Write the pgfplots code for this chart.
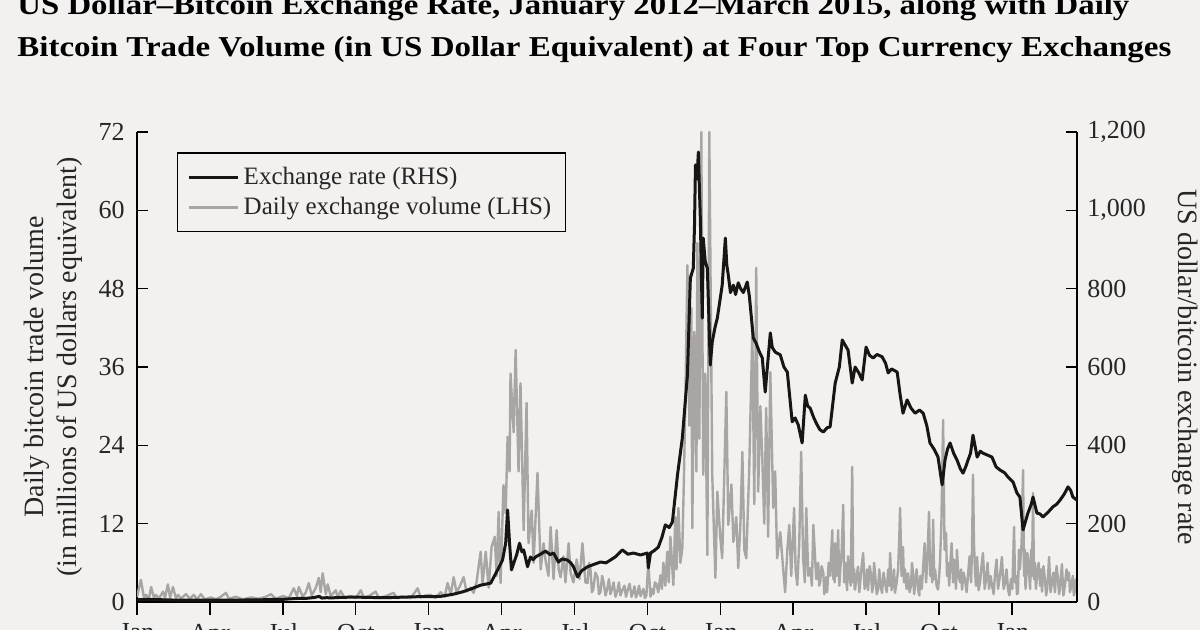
\documentclass[border=0pt]{standalone}
\usepackage{fontspec}
\setmainfont{Liberation Serif}
\usepackage{graphicx}
\usepackage{pgfplots}
\pgfplotsset{compat=1.18}
\definecolor{bg}{HTML}{F2F1EF}
\definecolor{volgray}{HTML}{A9A5A2}
\definecolor{ratecol}{HTML}{1A1515}

% x = months since 1 January 2012
\pgfplotstableread{
m v
0.00 0.8
0.16 3.4
0.29 0.6
0.37 1.1
0.49 0.5
0.58 2.3
0.70 0.6
0.78 1.1
0.90 0.5
1.07 1.6
1.15 0.6
1.27 2.7
1.36 0.7
1.48 2.3
1.60 0.6
1.69 1.1
1.81 0.5
2.01 1.2
2.18 0.5
2.34 1.1
2.47 0.4
2.63 1.2
2.79 0.4
3.04 0.7
3.25 0.4
3.45 0.8
3.66 1.4
3.78 0.5
4.07 0.8
4.36 0.4
4.69 0.7
5.01 0.5
5.30 0.8
5.51 1.2
5.71 0.5
6.00 0.9
6.25 0.6
6.45 2.1
6.58 0.9
6.66 2.3
6.82 0.8
6.95 1.5
7.07 2.9
7.19 1.0
7.36 2.2
7.48 3.7
7.56 1.5
7.64 4.4
7.77 1.2
7.85 2.7
7.97 0.9
8.18 1.8
8.26 0.7
8.38 1.7
8.55 0.6
8.80 0.9
9.00 0.6
9.21 1.8
9.33 0.7
9.54 0.9
9.82 1.6
9.95 0.6
10.23 0.9
10.56 1.4
10.69 0.6
10.93 0.8
11.26 0.6
11.55 2.1
11.67 0.7
11.88 1.0
12.08 1.1
12.29 0.6
12.49 1.5
12.66 0.8
12.78 2.9
12.91 1.2
13.03 3.8
13.15 1.5
13.28 2.4
13.44 3.8
13.56 1.6
13.73 2.2
13.85 1.4
13.97 3.0
14.14 7.7
14.22 2.8
14.35 7.7
14.47 2.2
14.59 8.4
14.72 10.0
14.80 4.0
14.88 13.8
14.96 2.9
15.08 17.9
15.17 13.6
15.25 25.3
15.33 20.0
15.37 35.0
15.50 26.0
15.58 38.6
15.70 20.0
15.78 33.5
15.91 11.0
16.03 30.5
16.11 9.0
16.24 14.0
16.32 6.0
16.48 19.8
16.61 5.0
16.73 9.0
16.81 6.4
16.93 4.0
17.02 11.5
17.14 3.5
17.27 11.0
17.35 5.0
17.43 3.8
17.55 7.0
17.63 3.0
17.76 9.0
17.84 4.5
17.96 3.0
18.09 6.5
18.21 3.5
18.33 9.0
18.45 3.0
18.54 2.9
18.60 6.0
18.66 5.0
18.72 1.5
18.78 2.0
18.86 4.5
18.95 3.8
19.01 1.2
19.07 1.5
19.14 4.0
19.20 3.0
19.28 1.0
19.36 2.2
19.42 3.5
19.48 1.2
19.55 2.0
19.61 3.0
19.69 0.8
19.77 1.8
19.83 3.0
19.89 1.0
19.97 1.8
20.06 2.5
20.12 0.8
20.18 1.7
20.27 2.8
20.35 0.8
20.41 1.5
20.47 2.4
20.53 0.7
20.59 1.3
20.66 2.5
20.72 0.9
20.78 1.5
20.84 2.0
20.90 0.6
20.96 1.0
21.04 6.0
21.13 0.8
21.19 2.0
21.25 1.2
21.31 3.0
21.37 2.8
21.45 1.5
21.54 4.1
21.60 2.0
21.66 6.0
21.74 2.5
21.82 7.7
21.88 3.0
21.95 10.0
22.07 2.6
22.15 13.0
22.20 5.0
22.28 14.4
22.36 6.0
22.44 8.3
22.50 18.0
22.56 30.0
22.65 51.6
22.73 27.0
22.81 45.0
22.85 11.3
22.93 41.4
23.02 20.0
23.06 55.0
23.14 25.0
23.22 72.0
23.30 19.5
23.38 35.0
23.47 7.2
23.55 72.0
23.67 19.5
23.80 3.7
23.88 16.9
24.00 10.0
24.08 6.7
24.17 20.0
24.25 32.2
24.33 11.8
24.46 18.0
24.54 9.2
24.66 13.0
24.74 5.2
24.83 12.0
24.91 23.0
24.99 8.0
25.07 6.7
25.19 20.0
25.32 41.4
25.40 15.0
25.48 51.2
25.56 16.9
25.65 30.0
25.73 22.0
25.81 12.0
25.89 29.7
25.97 10.0
26.06 35.2
26.18 14.4
26.26 20.0
26.34 6.7
26.47 10.7
26.59 5.0
26.67 1.5
26.76 8.0
26.84 11.8
26.92 4.0
27.04 14.4
27.10 5.0
27.17 2.6
27.25 9.0
27.33 23.0
27.41 6.7
27.48 3.0
27.54 14.4
27.62 4.0
27.70 5.2
27.77 2.5
27.83 11.8
27.95 3.5
28.03 6.0
28.07 2.5
28.11 3.0
28.17 5.5
28.24 4.5
28.28 1.2
28.32 2.0
28.36 3.8
28.40 1.5
28.46 6.0
28.52 4.0
28.57 8.0
28.61 11.0
28.65 3.5
28.69 6.0
28.71 3.0
28.73 9.0
28.79 4.0
28.85 11.0
28.90 2.5
28.94 5.0
29.00 8.0
29.06 14.9
29.10 3.0
29.14 6.0
29.18 3.5
29.22 1.8
29.26 7.0
29.30 5.0
29.37 2.5
29.43 20.7
29.47 3.0
29.51 5.0
29.53 2.0
29.55 1.9
29.61 4.0
29.67 5.4
29.72 1.5
29.76 3.0
29.82 5.5
29.88 7.5
29.94 2.0
30.00 3.0
30.04 5.0
30.08 1.8
30.15 5.5
30.21 4.0
30.25 1.5
30.29 2.5
30.33 6.0
30.37 4.4
30.44 1.2
30.50 2.0
30.54 5.0
30.58 3.5
30.62 2.0
30.66 1.4
30.72 4.5
30.78 3.0
30.85 1.5
30.91 5.0
30.95 2.5
30.99 7.5
31.05 1.8
31.11 3.0
31.15 5.0
31.19 1.4
31.26 3.0
31.32 5.0
31.36 9.0
31.40 14.4
31.46 4.0
31.52 8.4
31.56 3.0
31.60 5.0
31.67 2.0
31.73 4.4
31.79 1.5
31.85 2.5
31.89 6.0
31.93 4.5
31.98 1.2
32.02 2.9
32.08 5.0
32.14 2.0
32.19 1.0
32.23 4.0
32.29 2.0
32.35 5.4
32.41 9.0
32.47 3.0
32.53 7.0
32.59 13.8
32.64 4.0
32.68 6.0
32.72 3.0
32.76 12.6
32.80 3.5
32.84 5.0
32.90 2.5
32.96 1.9
33.00 3.5
33.04 6.0
33.10 12.0
33.17 27.9
33.23 8.0
33.29 10.6
33.33 4.0
33.37 6.0
33.42 2.5
33.46 5.4
33.52 9.0
33.58 3.0
33.62 6.5
33.66 4.5
33.70 2.0
33.74 8.0
33.80 4.0
33.87 3.0
33.91 5.0
33.95 1.9
34.01 4.5
34.07 3.5
34.14 1.5
34.20 4.4
34.26 7.0
34.32 3.0
34.36 8.0
34.40 19.5
34.44 9.0
34.48 5.0
34.52 2.5
34.57 6.9
34.63 1.8
34.69 3.0
34.75 5.5
34.81 7.5
34.88 2.0
34.94 3.5
35.00 6.0
35.06 2.0
35.12 4.0
35.18 2.6
35.25 1.2
35.31 4.5
35.37 6.5
35.43 2.0
35.51 4.0
35.59 6.9
35.66 2.0
35.72 3.0
35.78 5.0
35.84 1.9
35.90 1.0
35.96 3.5
36.02 2.0
36.09 11.5
36.13 3.0
36.17 4.0
36.21 1.2
36.25 1.4
36.29 8.0
36.33 5.0
36.40 9.0
36.46 20.2
36.50 4.0
36.54 8.0
36.56 2.0
36.58 3.0
36.64 7.5
36.70 5.0
36.75 2.0
36.79 8.0
36.83 4.0
36.87 16.7
36.91 3.5
36.95 6.0
36.99 2.0
37.03 4.0
37.10 6.0
37.16 2.5
37.20 5.0
37.24 1.6
37.30 5.5
37.36 3.5
37.41 1.0
37.45 2.0
37.49 4.0
37.53 6.9
37.59 1.5
37.65 3.0
37.71 4.5
37.77 1.5
37.84 5.5
37.90 3.5
37.94 1.2
37.98 2.0
38.02 4.0
38.06 5.8
38.12 1.0
38.18 2.5
38.25 5.0
38.31 3.3
38.35 4.5
38.39 1.5
38.45 2.5
38.51 4.0
38.55 1.0
38.60 2.0
38.64 3.5
38.68 1.4
}\volume

\pgfplotstableread{
m r
0.00 6.0
0.50 6.5
1.00 5.8
1.50 5.0
2.00 4.9
2.50 4.9
3.00 4.9
3.50 5.0
4.00 5.0
4.50 5.1
5.00 5.3
5.50 6.5
6.00 6.7
6.50 8.8
7.00 9.5
7.30 11.5
7.50 14.5
7.60 10.0
7.80 11.0
8.00 10.5
8.50 12.0
9.00 12.4
9.50 11.8
10.00 11.0
10.50 11.5
11.00 12.5
11.50 13.4
12.00 13.5
12.50 14.5
13.03 20
13.40 26
13.73 33
14.14 43
14.55 48
14.84 82
15.04 107
15.17 150
15.25 235
15.33 150
15.41 82
15.50 99
15.62 120
15.74 150
15.84 128
15.91 133
16.07 90
16.19 115
16.30 108
16.40 115
16.60 122
16.81 130
17.00 121
17.14 125
17.34 102
17.50 110
17.71 107
17.85 100
17.96 90
18.13 64
18.30 80
18.54 90
18.80 96
19.07 102
19.30 100
19.48 107
19.70 116
19.97 133
20.20 122
20.43 125
20.72 120
21.00 125
21.04 87
21.13 125
21.30 132
21.45 140
21.60 165
21.74 197
21.90 190
22.03 204
22.24 324
22.44 419
22.65 580
22.77 827
22.89 852
22.94 960
22.98 1116
23.04 1080
23.10 1149
23.14 1060
23.18 980
23.26 725
23.30 929
23.38 870
23.47 852
23.59 605
23.67 664
23.78 700
23.88 725
24.08 809
24.21 929
24.27 860
24.33 835
24.42 790
24.54 809
24.63 785
24.74 815
24.83 801
24.95 790
25.11 817
25.20 780
25.36 674
25.48 660
25.60 640
25.73 623
25.85 536
26.06 687
26.14 650
26.26 638
26.47 631
26.62 600
26.76 587
26.96 460
27.08 470
27.21 452
27.37 406
27.50 528
27.60 500
27.70 495
27.85 470
27.99 452
28.10 440
28.24 434
28.40 445
28.52 447
28.73 559
28.90 600
29.02 669
29.10 660
29.26 643
29.43 559
29.55 600
29.70 585
29.84 567
30.00 651
30.14 630
30.29 623
30.45 632
30.66 626
30.80 610
30.91 585
31.05 595
31.28 587
31.40 530
31.52 482
31.69 516
31.85 495
32.02 482
32.20 490
32.35 482
32.50 450
32.63 406
32.80 390
32.96 370
33.13 299
33.25 363
33.35 390
33.46 406
33.60 380
33.74 363
33.88 340
33.99 329
34.10 345
34.20 363
34.30 380
34.40 426
34.57 370
34.70 385
34.81 380
35.00 375
35.18 370
35.35 345
35.51 337
35.70 330
35.84 319
36.05 306
36.21 278
36.33 268
36.46 184
36.58 210
36.66 227
36.80 250
36.87 268
37.03 227
37.15 225
37.28 217
37.50 230
37.69 243
37.85 250
37.98 260
38.15 275
38.31 294
38.42 285
38.51 268
38.68 260
}\rate

\begin{document}
\begin{tikzpicture}
\fill[bg] (-68.5pt,-14pt) rectangle (531.5pt,301pt);
\node[anchor=base west, inner sep=0pt] at (-60pt,293.5pt)
  {\resizebox{556pt}{\height}{\fontsize{14.4}{17}\selectfont\bfseries US Dollar–Bitcoin Exchange Rate, January 2012–March 2015, along with Daily}};
\node[anchor=base west, inner sep=0pt] at (-60pt,272.5pt)
  {\resizebox{577pt}{\height}{\fontsize{14.4}{17}\selectfont\bfseries Bitcoin Trade Volume (in US Dollar Equivalent) at Four Top Currency Exchanges}};

\begin{axis}[
  at={(0,0)}, anchor=south west,
  scale only axis, width=470pt, height=235pt,
  xmin=0, xmax=38.68, ymin=0, ymax=72,
  axis x line*=bottom, axis y line*=left,
  axis line style={black, line width=0.7pt},
  xtick={0,3,...,36},
  xticklabels={Jan,Apr,Jul,Oct,Jan,Apr,Jul,Oct,Jan,Apr,Jul,Oct,Jan},
  ytick={0,12,...,72},
  xtick align=outside, ytick align=inside,
  xtick style={black, line width=0.7pt, /pgfplots/major tick length=6.5pt},
  ytick style={black, line width=0.7pt, /pgfplots/major tick length=5.5pt},
  minor tick num=0,
  /pgf/number format/assume math mode=true,
  tick label style={font=\fontsize{13}{15}\selectfont, text=black!85},
  yticklabel style={inner sep=0pt, xshift=-6pt},
  xticklabel style={inner sep=0pt, yshift=-6.5pt},
  every axis y label/.style={at={(axis description cs:-0.0888,0.5)}, anchor=center, rotate=90, align=center, font=\fontsize{14}{16.5}\selectfont, text=black!85},
  ylabel={Daily bitcoin trade volume\\(in millions of US dollars equivalent)},
  clip=true,
]
\addplot[volgray, line width=1.2pt, line join=round, mark=none] table[x=m, y=v] {\volume};
\end{axis}

\begin{axis}[
  at={(0,0)}, anchor=south west,
  scale only axis, width=470pt, height=235pt,
  xmin=0, xmax=38.68, ymin=0, ymax=1200,
  axis x line=none, axis y line*=right,
  axis line style={black, line width=0.7pt},
  ytick={0,200,...,1200},
  ytick align=inside,
  ytick style={black, line width=0.7pt, /pgfplots/major tick length=5.5pt},
  minor tick num=0,
  /pgf/number format/assume math mode=true,
  /pgf/number format/1000 sep={,},
  tick label style={font=\fontsize{13}{15}\selectfont, text=black!85},
  yticklabel style={inner sep=0pt, xshift=5pt},
  every axis y label/.style={at={(axis description cs:1.1149,0.5)}, anchor=center, rotate=-90, font=\fontsize{14}{16.5}\selectfont, text=black!85},
  ylabel={US dollar/bitcoin exchange rate},
  legend style={at={(rel axis cs:0.0426,0.957)}, anchor=north west, draw=black, line width=0.7pt, fill=none,
    font=\fontsize{12.5}{15}\selectfont, inner xsep=5pt, inner ysep=5pt, row sep=1pt, text=black!85},
  legend cell align=left,
  legend image code/.code={\draw[#1] (0pt,0pt) -- (24.5pt,0pt);},
]
\addplot[ratecol, line width=1.5pt, line join=round, mark=none] table[x=m, y=r] {\rate};
\addlegendentry{Exchange rate (RHS)}
\addlegendimage{volgray, line width=1.5pt}
\addlegendentry{Daily exchange volume (LHS)}
\end{axis}

\pgfresetboundingbox
\useasboundingbox (-68.5pt,-14pt) rectangle (531.5pt,301pt);
\end{tikzpicture}
\end{document}
